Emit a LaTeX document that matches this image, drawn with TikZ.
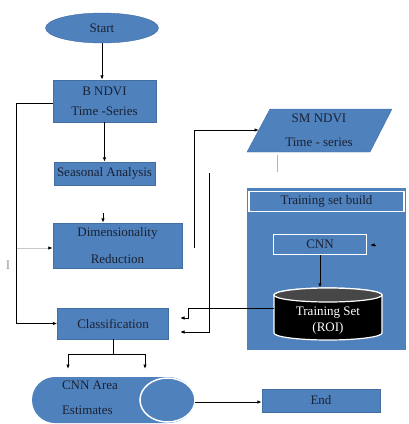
\documentclass[tikz,border=0pt]{standalone}
\usepackage{fontspec}
\setmainfont{Liberation Serif}
\usetikzlibrary{arrows.meta,shapes.geometric}
\definecolor{boxblue}{HTML}{4F81BD}
\definecolor{txt}{HTML}{1A2233}
\begin{document}
\begin{tikzpicture}[x=1pt,y=-1pt,
  box/.style={fill=boxblue, draw=boxblue!85!black, line width=0.4pt, inner sep=0pt,
    font=\fontsize{13}{20}\selectfont, text=txt, align=center},
  wbox/.style={box, draw=white, line width=1.5pt},
  lbl/.style={font=\fontsize{13}{20}\selectfont, text=txt, align=center, inner sep=0pt},
  conn/.style={line width=0.9pt, -{Latex[length=4.5pt,width=3.5pt]}},
  plain/.style={line width=0.9pt}]
\useasboundingbox (0,0) rectangle (409,424);

% left column
\node[box, ellipse, minimum width=113, minimum height=30] (start) at (102,28) {Start};
\node[box, minimum width=103, minimum height=42] (bndvi) at (104.5,101) {B NDVI\\Time -Series};
\node[box, minimum width=101, minimum height=23] (seas) at (104.5,173.5) {Seasonal Analysis};
\node[box, font=\fontsize{13}{27}\selectfont, minimum width=129, minimum height=45] (dim) at (117.5,245.5) {Dimensionality\\Reduction};
\node[box, minimum width=111, minimum height=31] (cls) at (113,323.5) {Classification};
\node[box, minimum width=118, minimum height=23] (end) at (321,400.5) {End};

% CNN area estimates (horizontal cylinder)
\path[fill=boxblue] (167.5,377) -- (55,377)
  arc[start angle=90, end angle=270, x radius=23pt, y radius=23pt]
  -- (167.5,423)
  arc[start angle=270, end angle=450, x radius=27.5pt, y radius=23pt] -- cycle;
\path[fill=boxblue, draw=white, line width=1.5pt] (167.5,400) ellipse [x radius=27.5pt, y radius=22pt];
\node[lbl, font=\fontsize{13}{25}\selectfont, align=left] (cnnarea) at (90,398) {CNN Area\\Estimates};
\coordinate (cnnR) at (195,402);

% SM NDVI parallelogram
\path[fill=boxblue, draw=boxblue!85!black, line width=0.4pt] (270,109) -- (392,109) -- (370,152) -- (247,152) -- cycle;
\node[lbl, font=\fontsize{13}{24}\selectfont] (sm) at (319,130) {SM NDVI\\Time - series};
\coordinate (smin) at (259,130);

% training set build panel
\node[fill=boxblue, minimum width=159, minimum height=162, inner sep=0pt] (panel) at (326.5,269) {};
\node[wbox, minimum width=155, minimum height=20] (title) at (326.5,201.5) {Training set build};
\node[wbox, minimum width=93, minimum height=20] (cnn) at (320,244.5) {CNN};

% training set cylinder
\path[fill=black, draw=white, line width=1.2pt] (274,295) -- (274,333)
  arc[start angle=180, end angle=360, x radius=54pt, y radius=7pt]
  -- (382,295)
  arc[start angle=0, end angle=180, x radius=54pt, y radius=7pt] -- cycle;
\path[fill=black!72, draw=white, line width=1.2pt] (328,295) ellipse [x radius=54pt, y radius=7pt];
\node[minimum width=108, minimum height=52, inner sep=0pt] (tset) at (328,314) {};
\node[lbl, text=white, font=\fontsize{13}{16}\selectfont] (tsettxt) at (328,321) {Training Set\\(ROI)};

% connectors
\draw[conn] (start.south) -- (start.south |- bndvi.north);
\draw[conn] (bndvi.south) -- (seas.north);
\coordinate (dimtop) at (103,213);
\draw[conn] (dimtop) -- (dimtop |- dim.north);

\coordinate (L1) at (16,103);
\draw[conn] (bndvi.west |- L1) -- (L1) |- (cls.west);

\coordinate (F) at (17,248);
\draw[line width=0.8pt, draw=gray!45, -{Latex[length=4.5pt,width=3.5pt,black]}] (F) -- (F -| dim.west);
\node[font=\fontsize{13}{15}\selectfont, text=gray!80] (ibar) at (8,265) {I};

\coordinate (bl) at (68,354);
\coordinate (br) at (145,354);
\coordinate (bla) at (68,369);
\coordinate (bra) at (145,369);
\draw[plain] (cls.south) -- (cls.south |- bl);
\draw[plain] (bl) -- (br);
\draw[conn] (bl) -- (bla);
\draw[conn] (br) -- (bra);

\draw[conn] (cnnR) -- (cnnR -| end.west);

\coordinate (U) at (194,248);
\draw[conn] (U) |- (smin);
\coordinate (g1) at (277,155);
\coordinate (g2) at (277,172);
\draw[line width=0.8pt, gray!60] (g1) -- (g2);

\coordinate (V) at (209,173);
\coordinate (a2) at (180,332);
\draw[conn] (V) |- (a2);

\coordinate (k) at (188,308);
\coordinate (a1) at (180,318);
\draw[conn] (tset.west |- k) -- (k) |- (a1);

\draw[conn] (cnn.south) -- (cnn.south |- tset.north);
\coordinate (c1) at (376,245);
\coordinate (c2) at (370,245);
\draw[conn] (c1) -- (c2);
\end{tikzpicture}
\end{document}
